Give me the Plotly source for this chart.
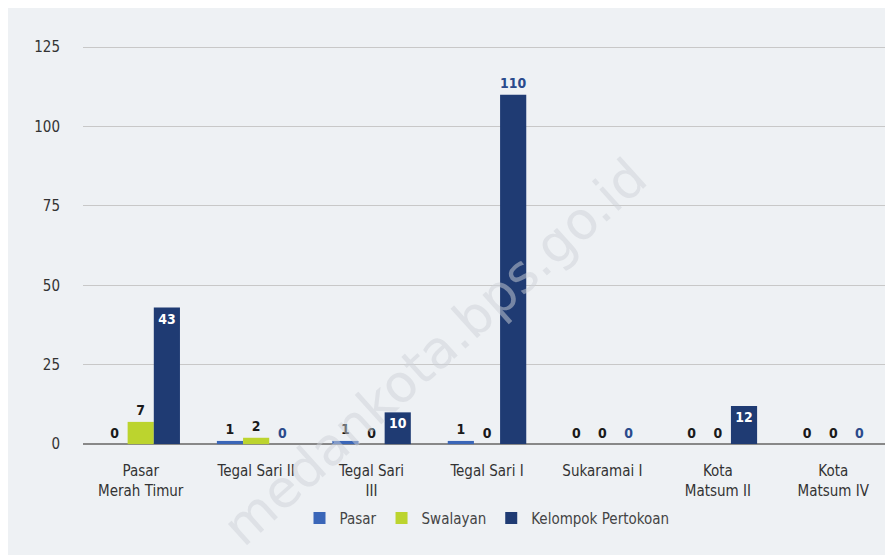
import plotly.graph_objects as go

kelurahan = ["Pasar<br>Merah Timur", "Tegal Sari II", "Tegal Sari<br>III", "Tegal Sari I",
             "Sukaramai I", "Kota<br>Matsum II", "Kota<br>Matsum IV"]
pasar = [0, 1, 1, 1, 0, 0, 0]
swalayan = [7, 2, 0, 0, 0, 0, 0]
pertokoan = [43, 0, 10, 110, 0, 12, 0]

lbl_font = dict(color="#1a1a1a", size=16, family="DejaVu Sans Condensed", weight="bold")

fig = go.Figure()

fig.add_trace(go.Bar(x=kelurahan, y=pasar, name="Pasar", marker_color="#3a66b8",
                     text=pasar, textposition="outside", textfont=lbl_font))
fig.add_trace(go.Bar(x=kelurahan, y=swalayan, name="Swalayan", marker_color="#bcd42e",
                     text=swalayan, textposition="outside", textfont=lbl_font))

# big bars get the label inside in white, empty ones get a blue label
pos = ["inside" if v >= 10 else "outside" for v in pertokoan]
col = ["white" if v >= 10 else "#2a4a8c" for v in pertokoan]
pos[3] = "outside"
col[3] = "#2a4a8c"
fig.add_trace(go.Bar(x=kelurahan, y=pertokoan, name="Kelompok Pertokoan", marker_color="#1f3b73",
                     text=pertokoan, textposition=pos, insidetextanchor="end",
                     textfont=dict(color=col, size=16, family="DejaVu Sans Condensed", weight="bold"),
                     cliponaxis=False))

fig.update_traces(marker_line_width=0)

fig.add_annotation(text="medankota.bps.go.id", xref="paper", yref="paper", x=0.435, y=0.26,
                   xanchor="center", yanchor="middle",
                   showarrow=False, textangle=-42,
                   font=dict(size=52, color="rgba(205,210,216,0.5)", family="DejaVu Sans"))

fig.update_layout(
    width=893, height=555,
    paper_bgcolor="#eef1f4", plot_bgcolor="#eef1f4",
    margin=dict(l=75, r=10, t=35, b=103),
    barmode="group", bargap=0.32, bargroupgap=0.0,
    font=dict(family="DejaVu Sans Condensed", size=15, color="#333333"),
    uniformtext=dict(minsize=10, mode="show"),
    legend=dict(orientation="h", x=0.5, xanchor="center", y=-0.10, yanchor="top",
                font=dict(size=15, color="#444444")),
    yaxis=dict(range=[-5, 126.3], tickvals=[0, 25, 50, 75, 100, 125], gridcolor="#c8c8c8",
               zeroline=True, zerolinecolor="#888888", zerolinewidth=1.5,
               tickfont=dict(size=15, color="#333333"), ticklabelstandoff=22),
    xaxis=dict(tickfont=dict(size=15, color="#333333"), showline=False),
)

fig.write_html("out.html")
